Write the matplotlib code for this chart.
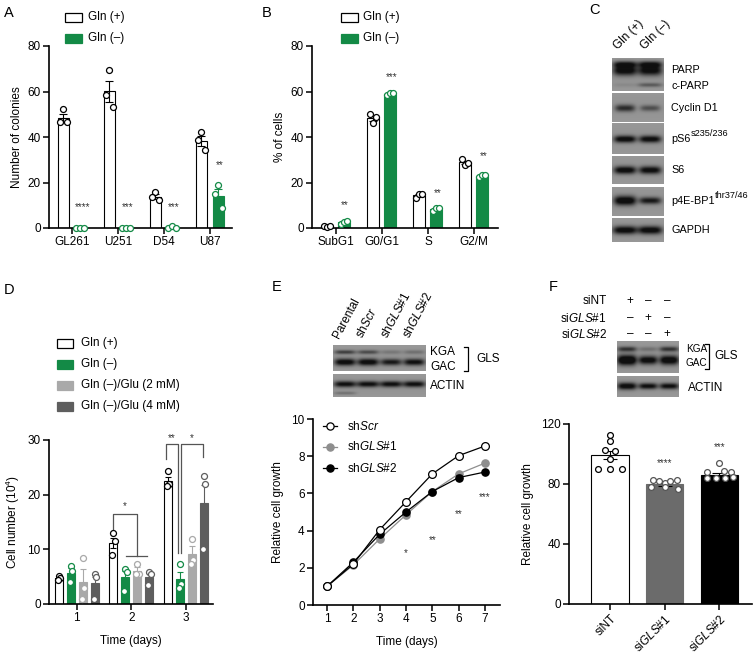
import numpy as np
import matplotlib
matplotlib.use("Agg")
import matplotlib.pyplot as plt
from matplotlib.patches import Rectangle
from matplotlib.lines import Line2D

plt.rcParams['font.family'] = ['Liberation Sans', 'DejaVu Sans']
plt.rcParams['mathtext.fontset'] = 'custom'
plt.rcParams['mathtext.rm'] = 'Liberation Sans'
plt.rcParams['mathtext.it'] = 'Liberation Sans:italic'
plt.rcParams['mathtext.bf'] = 'Liberation Sans:bold'

# ---------------- data ----------------
cats_A = ['GL261', 'U251', 'D54', 'U87']
A_pos_mean = [48.5, 60.2, 13.8, 38.2]
A_pos_sem = [1.8, 4.6, 1.1, 2.2]
A_neg_mean = [0.0, 0.0, 0.4, 14.1]
A_neg_sem = [0.0, 0.0, 0.3, 3.0]
A_pos_pts = [[52.3, 46.7, 46.7], [69.5, 58.5, 53.3], [16.0, 13.8, 12.3], [42.0, 38.5, 34.5]]
A_neg_pts = [[0.0, 0.0, 0.0], [0.0, 0.0, 0.0], [0.2, 1.0, 0.0], [19.0, 15.0, 8.7]]
A_stars = ['****', '***', '***', '**']

cats_B = ['SubG1', 'G0/G1', 'S', 'G2/M']
B_pos_mean = [0.8, 48.2, 14.3, 28.8]
B_pos_sem = [0.3, 1.0, 0.6, 0.8]
B_neg_mean = [2.6, 59.0, 8.3, 23.0]
B_neg_sem = [0.5, 0.4, 0.4, 0.3]
B_pos_pts = [[1.0, 0.5, 0.9], [50.3, 46.3, 48.9], [13.0, 14.8, 15.0], [30.3, 27.7, 28.6]]
B_neg_pts = [[1.8, 2.8, 3.2], [58.5, 59.3, 59.5], [7.6, 8.6, 8.8], [22.6, 23.2, 23.3]]
B_stars = ['**', '***', '**', '**']

days_D = [1, 2, 3]
D_labels = ['Gln (+)', 'Gln (–)', 'Gln (–)/Glu (2 mM)', 'Gln (–)/Glu (4 mM)']
D_means = [[4.8, 11.1, 22.5], [5.6, 4.9, 4.5], [4.1, 6.1, 9.1], [3.8, 4.9, 18.4]]
D_sems = [[0.4, 0.9, 0.8], [1.0, 1.2, 1.4], [2.3, 0.6, 1.5], [1.2, 0.7, 3.4]]
D_pts = [
    [[5.2, 4.8, 4.3], [12.9, 11.5, 9.0], [24.4, 21.9, 21.6]],
    [[7.0, 6.1, 4.0], [6.4, 5.9, 2.4], [7.3, 3.6, 2.9]],
    [[8.5, 3.0, 0.9], [7.4, 5.5, 5.5], [11.9, 8.0, 7.3]],
    [[5.5, 5.0, 0.9], [5.9, 5.5, 3.5], [23.4, 21.9, 10.0]],
]

days_E = [1, 2, 3, 4, 5, 6, 7]
E_shScr = [1.0, 2.2, 4.05, 5.55, 7.05, 8.03, 8.55]
E_shGLS1 = [1.0, 2.15, 3.55, 4.85, 6.1, 7.05, 7.63]
E_shGLS2 = [1.0, 2.3, 3.8, 5.0, 6.1, 6.85, 7.15]
E_shGLS2_sem = [0.0, 0.05, 0.05, 0.05, 0.05, 0.15, 0.05]
E_star_days = [4, 5, 6, 7]
E_stars = ['*', '**', '**', '***']
E_lanes = ['Parental', 'sh$\\it{Scr}$', 'sh$\\it{GLS\\#1}$', 'sh$\\it{GLS\\#2}$']

F_cats = ['siNT', 'si$\\it{GLS}$#1', 'si$\\it{GLS}$#2']
F_means = [99.3, 79.8, 85.8]
F_sems = [2.9, 0.8, 1.3]
F_pts = [[113, 109, 103, 102, 97, 90, 90, 90],
         [83, 82, 81, 82, 83, 78, 78, 77],
         [94, 88, 89, 88, 84, 84, 84, 85]]
F_stars = ['', '****', '***']

C_labels = [('PARP', ''), ('c-PARP', ''), ('Cyclin D1', ''), ('pS6', 's235/236'), ('S6', ''),
            ('p4E-BP1', 'thr37/46'), ('GAPDH', '')]

# ---------------- style ----------------
GREEN = '#138a46'
LGRAY = '#a9a9a9'
DGRAY = '#5e5e5e'
FS = 8.5
W, H = 756, 657
fig = plt.figure(figsize=(W / 100, H / 100), dpi=100)
renderer = fig.canvas.get_renderer()


def add_ax(l, t, r, b):
    return fig.add_axes([l / W, 1 - b / H, (r - l) / W, (b - t) / H])


def ftext(x, y, s, **kw):
    kw.setdefault('fontsize', FS)
    return fig.text(x / W, 1 - y / H, s, **kw)


def fline(xs, ys, **kw):
    fig.add_artist(Line2D([x / W for x in xs], [1 - y / H for y in ys],
                          transform=fig.transFigure, **kw))


def legend_box(x0, x1, yc, h, fc, ec, label, tx):
    fig.add_artist(Rectangle((x0 / W, 1 - (yc + h / 2) / H), (x1 - x0) / W, h / H,
                             transform=fig.transFigure, fc=fc, ec=ec, lw=0.9))
    ftext(tx, yc, label, va='center', ha='left')


def style_ax(ax):
    for s in ['top', 'right']:
        ax.spines[s].set_visible(False)
    for s in ['left', 'bottom']:
        ax.spines[s].set_linewidth(1.2)
    ax.tick_params(direction='out', length=4, width=1.1, labelsize=FS, pad=2)
    ax.set_facecolor('none')


def blot(l, t, r, b, centers, bands, hw):
    ax = add_ax(l, t, r, b)
    w, h = r - l, b - t
    yy, xx = np.mgrid[0:h:0.25, 0:w:0.25]
    img = np.full(xx.shape, 0.64)
    img -= 0.06 * np.exp(-((yy - h / 2) / (h * 0.9)) ** 2)
    for lane, yc, hh, inten in bands:
        cx = centers[lane]
        img -= inten * np.exp(-np.abs((xx - cx) / hw) ** 4 - ((yy - yc) / hh) ** 2)
    img = np.clip(img, 0.06, 1)
    ax.imshow(img, cmap='gray', vmin=0, vmax=1, extent=(0, w, h, 0),
              aspect='auto', interpolation='bilinear')
    ax.set_xlim(0, w)
    ax.set_ylim(h, 0)
    ax.axis('off')
    return ax


def scatter_pts(ax, xc, pts, offs, ec, ms=4.3):
    for p, o in zip(pts, offs):
        ax.plot(xc + o, p, 'o', ms=ms, mfc='white', mec=ec, mew=0.9, zorder=5,
                clip_on=False)


# ---------------- Panel A ----------------
axA = add_ax(49, 46, 232, 228)
style_ax(axA)
xA = np.arange(len(cats_A))
bw = 0.24
axA.bar(xA - 0.19, A_pos_mean, bw, color='white', edgecolor='black', lw=0.8, zorder=2)
axA.bar(xA + 0.18, A_neg_mean, bw, color=GREEN, edgecolor=GREEN, lw=0.8, zorder=2)
axA.errorbar(xA - 0.19, A_pos_mean, yerr=A_pos_sem, fmt='none', ecolor='black',
             elinewidth=0.8, capsize=3, capthick=0.8, zorder=3)
axA.errorbar(xA + 0.18, A_neg_mean, yerr=A_neg_sem, fmt='none', ecolor=GREEN,
             elinewidth=0.8, capsize=3, capthick=0.8, zorder=3)
offs3 = [0.0, -0.08, 0.08]
offs3b = [-0.09, 0.0, 0.09]
A_star_y = [9.4, 9.4, 9.4, 27.7]
for i in range(len(cats_A)):
    scatter_pts(axA, xA[i] - 0.19, A_pos_pts[i], offs3, 'black')
    scatter_pts(axA, xA[i] + 0.18, A_neg_pts[i], offs3b if A_neg_mean[i] < 1 else offs3, GREEN)
    axA.text(xA[i] + 0.22, A_star_y[i], A_stars[i], ha='center',
             va='center', fontsize=7, color='#333333')
axA.set_xlim(-0.5, 3.48)
axA.set_ylim(0, 80)
axA.set_yticks([0, 20, 40, 60, 80])
axA.set_xticks(xA)
axA.set_xticklabels(cats_A)
axA.set_ylabel('Number of colonies', fontsize=FS, labelpad=3)
legend_box(65, 82, 17, 9, 'white', 'black', 'Gln (+)', 88)
legend_box(65, 82, 38, 9, GREEN, GREEN, 'Gln (–)', 88)
ftext(9, 13, 'A', fontsize=10.5, ha='center', va='center')

# ---------------- Panel B ----------------
axB = add_ax(312, 46, 498, 228)
style_ax(axB)
xB = np.arange(len(cats_B))
axB.bar(xB - 0.2, B_pos_mean, 0.25, color='white', edgecolor='black', lw=0.8, zorder=2)
axB.bar(xB + 0.17, B_neg_mean, 0.25, color=GREEN, edgecolor=GREEN, lw=0.8, zorder=2)
axB.errorbar(xB - 0.2, B_pos_mean, yerr=B_pos_sem, fmt='none', ecolor='black',
             elinewidth=0.8, capsize=3, capthick=0.8, zorder=3)
axB.errorbar(xB + 0.17, B_neg_mean, yerr=B_neg_sem, fmt='none', ecolor=GREEN,
             elinewidth=0.8, capsize=3, capthick=0.8, zorder=3)
for i in range(len(cats_B)):
    scatter_pts(axB, xB[i] - 0.2, B_pos_pts[i], [-0.07, 0.0, 0.07], 'black')
    scatter_pts(axB, xB[i] + 0.17, B_neg_pts[i], [-0.07, 0.0, 0.07], GREEN)
B_star_y = [10.1, 66.2, 15.5, 31.8]
for i in range(len(cats_B)):
    axB.text(xB[i] + 0.2, B_star_y[i], B_stars[i], ha='center', va='center',
             fontsize=7, color='#333333')
axB.set_xlim(-0.52, 3.52)
axB.set_ylim(0, 80)
axB.set_yticks([0, 20, 40, 60, 80])
axB.set_xticks(xB)
axB.set_xticklabels(cats_B)
axB.set_ylabel('% of cells', fontsize=FS, labelpad=3)
legend_box(341, 358, 17, 9, 'white', 'black', 'Gln (+)', 363)
legend_box(341, 358, 38, 9, GREEN, GREEN, 'Gln (–)', 363)
ftext(267, 13, 'B', fontsize=10.5, ha='center', va='center')

# ---------------- Panel C (western blot) ----------------
ftext(595, 10, 'C', fontsize=10.5, ha='center', va='center')
cC = [13, 38]
blot(612, 58, 664, 91, cC, [(0, 7, 3, 0.5), (1, 7, 3, 0.5), (0, 13, 4.8, 0.6),
                             (1, 13, 4.8, 0.58), (1, 27, 2, 0.24), (0, 27, 2, 0.05)], 12)
blot(612, 93, 664, 122, cC, [(0, 15, 3.5, 0.42), (1, 15, 3, 0.28)], 10)
blot(612, 123, 664, 154, cC, [(0, 16, 3.5, 0.6), (1, 16, 3.5, 0.58)], 11)
blot(612, 156, 664, 184, cC, [(0, 14, 3.8, 0.6), (1, 14, 3.8, 0.58)], 11)
blot(612, 187, 664, 216, cC, [(0, 14, 4.5, 0.65), (1, 14, 3.3, 0.5)], 11)
blot(612, 218, 664, 242, cC, [(0, 12, 4, 0.6), (1, 12, 4, 0.6)], 12)
C_label_y = [70, 86, 108, 139, 170, 201, 230]
for (lab, sup), y in zip(C_labels, C_label_y):
    t = ftext(671, y, lab, ha='left', va='center', fontsize=7.8)
    if sup:
        ext = t.get_window_extent(renderer=renderer)
        ftext(ext.x1 + 0.5, y - 5, sup, ha='left', va='center', fontsize=6.6)
for lab, x in zip(['Gln (+)', 'Gln (–)'], [620, 647]):
    ftext(x, 52, lab, ha='left', va='bottom', rotation=45, rotation_mode='anchor')

# ---------------- Panel D ----------------
axD = add_ax(49, 440, 213, 604)
style_ax(axD)
xD = np.array(days_D, dtype=float)
D_fc = ['white', GREEN, LGRAY, DGRAY]
D_ec = ['black', GREEN, LGRAY, DGRAY]
D_off = [-0.33, -0.11, 0.11, 0.33]
for k in range(4):
    axD.bar(xD + D_off[k], D_means[k], 0.15, color=D_fc[k], edgecolor=D_ec[k],
            lw=0.8, zorder=2)
    axD.errorbar(xD + D_off[k], D_means[k], yerr=D_sems[k], fmt='none', ecolor=D_ec[k],
                 elinewidth=0.8, capsize=2.5, capthick=0.8, zorder=3)
    for j in range(3):
        scatter_pts(axD, xD[j] + D_off[k], D_pts[k][j], [0.0, 0.03, -0.02], D_ec[k])
# significance brackets
bk = dict(color='#555555', lw=0.9, zorder=4)
axD.plot([1.67, 1.67, 2.10, 2.10], [13.5, 16.4, 16.4, 8.7], **bk)
axD.plot([1.90, 2.28], [8.7, 8.7], **bk)
axD.text(1.88, 17.0, '*', ha='center', va='bottom', fontsize=7, color='#333333')
axD.plot([2.63, 2.63, 2.85, 2.85], [26.6, 29.2, 29.2, 9.4], **bk)
axD.plot([2.91, 2.91, 3.31, 3.31], [9.4, 29.2, 29.2, 26.8], **bk)
axD.text(2.74, 29.4, '**', ha='center', va='bottom', fontsize=7, color='#333333')
axD.text(3.11, 29.4, '*', ha='center', va='bottom', fontsize=7, color='#333333')
axD.set_xlim(0.49, 3.5)
axD.set_ylim(0, 30)
axD.set_yticks([0, 10, 20, 30])
axD.set_xticks(days_D)
axD.set_xlabel('Time (days)', fontsize=FS, labelpad=8)
axD.set_ylabel('Cell number (10$^4$)', fontsize=FS, labelpad=4)
for k, y in enumerate([343, 364, 385, 406]):
    legend_box(57, 73, y, 9, D_fc[k], D_ec[k], D_labels[k], 81)
ftext(9, 290, 'D', fontsize=10.5, ha='center', va='center')

# ---------------- Panel E ----------------
ftext(277, 287, 'E', fontsize=10.5, ha='center', va='center')
cE = [12, 35, 58, 81]
blot(333, 345, 426, 371, cE, [(0, 7, 2, 0.35), (1, 7, 2, 0.3), (2, 7, 2, 0.12), (3, 7, 2, 0.15),
                               (0, 17, 3.5, 0.6), (1, 17, 3.5, 0.6), (2, 17, 3.2, 0.5),
                               (3, 17, 3.3, 0.55)], 10.5)
blot(333, 374, 426, 397, cE, [(0, 10, 3, 0.55), (1, 10, 3, 0.55), (2, 10, 3, 0.55),
                               (3, 10, 3, 0.55), (0, 19, 1.5, 0.15)], 11)
for lab, x in zip(E_lanes, [342, 365, 390, 412]):
    ftext(x, 340, lab, ha='left', va='bottom', rotation=62, rotation_mode='anchor')
ftext(430, 352, 'KGA', ha='left', va='center')
ftext(430, 367, 'GAC', ha='left', va='center')
fline([464, 468, 468, 464], [347, 347, 371, 371], color='black', lw=0.9)
ftext(476, 359, 'GLS', ha='left', va='center')
ftext(430, 386, 'ACTIN', ha='left', va='center')

axE = add_ax(313, 419, 500, 605)
style_ax(axE)
axE.plot(days_E, E_shGLS1, '-o', color='#8e8e8e', mfc='#8e8e8e', mec='#8e8e8e',
         ms=5.2, lw=0.9, zorder=3, clip_on=False)
axE.errorbar(days_E, E_shGLS2, yerr=E_shGLS2_sem, fmt='-o', color='black', mfc='black',
             mec='black', ms=5.2, lw=0.9, elinewidth=0.8, capsize=2, zorder=4,
             clip_on=False)
axE.plot(days_E, E_shScr, '-o', color='black', mfc='white', mec='black', mew=0.9,
         ms=5.6, lw=0.9, zorder=5, clip_on=False)
E_star_y = [2.8, 3.5, 4.9, 5.8]
for d, s, y in zip(E_star_days, E_stars, E_star_y):
    axE.text(d, y, s, ha='center', va='center', fontsize=7, color='#333333')
axE.set_xlim(0.47, 7.57)
axE.set_ylim(0, 10)
axE.set_xticks(days_E)
axE.set_yticks([0, 2, 4, 6, 8, 10])
axE.set_xlabel('Time (days)', fontsize=FS, labelpad=8)
axE.set_ylabel('Relative cell growth', fontsize=FS, labelpad=5)
E_leg = [('sh$\\it{Scr}$', 'black', 'white'), ('sh$\\it{GLS\\#1}$', '#8e8e8e', '#8e8e8e'),
         ('sh$\\it{GLS\\#2}$', 'black', 'black')]
for (lab, c, fc), y in zip(E_leg, [426, 447, 468]):
    fline([323, 337], [y, y], color=c, lw=0.9)
    fig.add_artist(Line2D([330 / W], [1 - y / H], transform=fig.transFigure, marker='o',
                          ms=5.2, mfc=fc, mec=c, mew=0.9, ls='none'))
    ftext(347, y, lab, ha='left', va='center')

# ---------------- Panel F ----------------
ftext(553, 287, 'F', fontsize=10.5, ha='center', va='center')
rows_F = [('siNT', ['+', '–', '–']), ('si$\\it{GLS}$#1', ['–', '+', '–']),
          ('si$\\it{GLS}$#2', ['–', '–', '+'])]
for (lab, signs), y in zip(rows_F, [301, 318, 334]):
    ftext(607, y, lab, ha='right', va='center')
    for sgn, x in zip(signs, [630, 648, 667]):
        ftext(x, y, sgn, ha='center', va='center')
cF = [10, 31, 52]
blot(617, 341, 679, 373, cF, [(0, 8, 2.5, 0.4), (1, 8, 2.3, 0.15), (2, 8, 2.5, 0.4),
                               (0, 19, 5, 0.75), (1, 19, 4.2, 0.6), (2, 19, 4.6, 0.65)], 9.5)
blot(617, 376, 679, 397, cF, [(0, 10, 3.5, 0.6), (1, 10, 3, 0.55), (2, 10, 3, 0.55)], 9.5)
ftext(686, 349, 'KGA', ha='left', va='center', fontsize=7.2)
ftext(686, 363, 'GAC', ha='left', va='center', fontsize=7.2)
fline([705, 709, 709, 705], [344, 344, 369, 369], color='black', lw=0.9)
ftext(714, 356, 'GLS', ha='left', va='center')
ftext(688, 388, 'ACTIN', ha='left', va='center')

axF = add_ax(569, 424, 752, 604)
style_ax(axF)
xF = np.arange(len(F_cats))
F_fc = ['white', '#6b6b6b', 'black']
F_ec = ['black', '#6b6b6b', 'black']
axF.bar(xF, F_means, 0.68, color=F_fc, edgecolor=F_ec, lw=0.8, zorder=2)
axF.errorbar(xF, F_means, yerr=F_sems, fmt='none', ecolor='black', elinewidth=0.8,
             capsize=5, capthick=0.8, zorder=3)
F_offs = [[0, 0, -0.1, 0.1, 0, -0.22, 0, 0.22],
          [-0.22, -0.1, 0.0, 0.1, 0.22, -0.24, 0.0, 0.24],
          [0.0, -0.22, 0.08, 0.22, -0.22, -0.05, 0.1, 0.25]]
for i in range(3):
    scatter_pts(axF, xF[i], F_pts[i], F_offs[i], 'black' if i == 0 else '#555555', ms=4.2)
F_star_y = [0, 93.8, 104.9]
for i in range(3):
    if F_stars[i]:
        axF.text(xF[i], F_star_y[i], F_stars[i], ha='center', va='center', fontsize=7,
                 color='#333333')
axF.set_xlim(-0.75, 2.6)
axF.set_ylim(0, 120)
axF.set_yticks([0, 40, 80, 120])
axF.set_xticks(xF)
axF.set_xticklabels(F_cats, rotation=45, ha='right', rotation_mode='anchor')
axF.set_ylabel('Relative cell growth', fontsize=FS, labelpad=5)

fig.savefig('out.png', dpi=100, facecolor='white')
